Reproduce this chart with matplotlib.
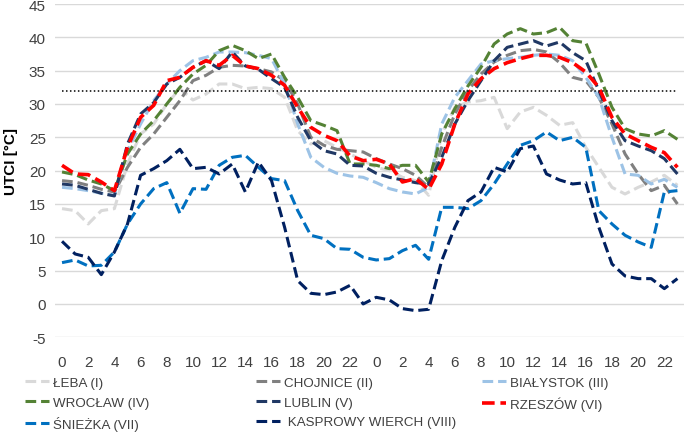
import matplotlib
matplotlib.use("Agg")
import matplotlib.pyplot as plt

plt.rcParams['font.family'] = ['Liberation Sans Narrow', 'Liberation Sans', 'DejaVu Sans']

# hours over two days (48 hourly values)
hours = list(range(24)) * 2

leba = [14.3, 14.0, 12.0, 14.0, 14.3, 21.0, 25.5, 27.0, 30.0, 32.3, 30.6, 31.5, 33.0, 33.0, 32.3, 32.5, 32.3, 31.0, 26.0, 24.0, 24.5, 23.5, 22.5, 21.5,
        20.5, 20.0, 19.0, 18.5, 16.3, 25.5, 29.5, 30.3, 30.5, 31.0, 26.3, 28.8, 29.5, 28.3, 26.8, 27.2, 23.5, 20.5, 17.5, 16.5, 17.5, 18.3, 19.3, 17.8]
chojnice = [18.5, 18.3, 17.8, 17.2, 16.8, 20.5, 23.5, 25.5, 28.0, 30.5, 33.5, 34.3, 35.5, 35.8, 35.7, 35.3, 34.8, 33.5, 30.0, 25.0, 23.8, 23.2, 23.0, 22.8,
            21.8, 21.0, 20.3, 19.3, 17.5, 23.5, 28.5, 32.0, 34.5, 36.3, 37.3, 38.0, 38.2, 37.8, 36.2, 34.0, 33.5, 31.0, 27.0, 22.5, 19.5, 17.0, 17.8, 15.0]
bialystok = [17.5, 17.3, 17.0, 16.6, 16.3, 23.0, 27.0, 30.5, 33.0, 35.0, 36.5, 37.0, 37.8, 37.8, 37.7, 37.3, 36.8, 33.0, 27.0, 22.0, 20.5, 19.6, 19.2, 19.0,
             18.2, 17.3, 16.8, 16.5, 17.5, 27.0, 31.0, 33.5, 36.0, 36.5, 36.8, 37.0, 37.3, 37.5, 37.3, 36.5, 34.0, 31.0, 25.0, 19.5, 19.3, 18.0, 18.7, 17.5]
wroclaw = [19.8, 19.4, 18.6, 18.0, 17.0, 22.5, 25.5, 27.5, 30.0, 32.5, 34.5, 35.8, 38.0, 38.8, 38.0, 36.8, 37.5, 34.0, 31.0, 27.5, 26.8, 26.0, 21.0, 21.0,
           20.8, 20.3, 20.8, 20.8, 18.3, 25.5, 29.3, 32.7, 35.5, 39.0, 40.5, 41.3, 40.5, 40.7, 41.5, 39.5, 39.2, 34.5, 29.5, 26.3, 25.5, 25.2, 26.0, 24.7]
lublin = [18.0, 17.8, 17.2, 16.6, 16.2, 24.0, 28.5, 30.2, 33.0, 34.0, 35.5, 36.5, 35.3, 37.8, 35.7, 35.2, 33.8, 32.5, 28.0, 24.5, 23.0, 22.5, 20.8, 20.7,
          19.6, 19.0, 18.6, 18.2, 18.0, 22.0, 27.0, 30.5, 33.5, 36.5, 38.5, 39.0, 39.5, 38.7, 39.3, 37.7, 36.5, 32.0, 27.5, 24.5, 23.7, 23.0, 21.8, 19.5]
rzeszow = [20.8, 19.5, 19.4, 18.3, 17.0, 23.5, 28.0, 29.8, 33.5, 34.0, 35.5, 36.5, 35.8, 37.3, 35.7, 35.3, 34.3, 32.8, 29.5, 26.5, 25.3, 24.5, 22.2, 21.5,
           21.7, 21.0, 18.3, 18.8, 17.2, 21.0, 27.0, 31.5, 33.8, 35.3, 36.2, 36.8, 37.3, 37.3, 37.0, 36.2, 34.8, 32.5, 28.0, 25.5, 24.5, 23.5, 22.7, 20.5]
sniezka = [6.2, 6.6, 5.7, 5.8, 7.8, 12.0, 15.0, 17.3, 18.2, 13.6, 17.3, 17.2, 20.8, 22.0, 22.3, 20.5, 18.8, 18.5, 14.0, 10.3, 9.8, 8.3, 8.2, 7.0,
           6.6, 6.8, 8.0, 8.8, 6.7, 14.5, 14.5, 14.3, 15.5, 18.0, 21.0, 23.8, 24.5, 25.8, 24.5, 25.0, 23.5, 14.0, 12.0, 10.3, 9.3, 8.5, 16.8, 17.0]
kasprowy = [9.4, 7.5, 7.0, 4.4, 7.8, 12.0, 19.3, 20.3, 21.5, 23.2, 20.3, 20.5, 19.5, 21.0, 16.8, 21.3, 18.5, 11.5, 3.5, 1.6, 1.4, 1.8, 2.8, 0.0,
            1.0, 0.6, -0.7, -1.0, -0.8, 6.5, 11.5, 15.5, 16.8, 20.5, 19.8, 23.3, 23.7, 19.5, 18.6, 18.0, 18.2, 11.5, 6.0, 4.2, 3.8, 3.8, 2.3, 3.8]
threshold = 32

names = ["ŁEBA (I)", "CHOJNICE (II)", "BIAŁYSTOK (III)", "WROCŁAW (IV)", "LUBLIN (V)",
         "RZESZÓW (VI)", "ŚNIEŻKA (VII)", " KASPROWY WIERCH (VIII)"]
series = [leba, chojnice, bialystok, wroclaw, lublin, rzeszow, sniezka, kasprowy]
colors = ["#D9D9D9", "#808080", "#9DC3E6", "#548235", "#203864", "#FF0000", "#0070C0", "#002060"]
widths = [2.2, 2.2, 2.2, 2.2, 2.2, 2.6, 2.2, 2.2]

fig = plt.figure(figsize=(6.85, 4.39), dpi=100)
ax = fig.add_axes([0.081, 0.2294, 0.9175, 0.7592])

x = list(range(len(hours)))
handles = []
for s, name, c, w in zip(series, names, colors, widths):
    ln, = ax.plot(x, s, color=c, lw=w, linestyle=(0, (3.5, 1.6)), dash_capstyle='butt',
                  label=name)
    handles.append(ln)

ax.plot([0, len(hours) - 1], [threshold, threshold], color='black', lw=1.1,
        linestyle=(0, (1, 1.6)))

ax.set_xlim(-0.5, len(hours) - 0.5)
ax.set_ylim(-5, 45)
ax.set_yticks(range(-5, 50, 5))
ax.set_yticklabels([str(v) for v in range(-5, 50, 5)])
ax.set_xticks(x[::2])
ax.set_xticklabels([str(h) for h in hours[::2]])
ax.tick_params(length=0, labelsize=11, colors='#404040')
ax.tick_params(axis='x', pad=13)
ax.tick_params(axis='y', pad=7)
for sp in ax.spines.values():
    sp.set_visible(False)
ax.grid(axis='y', color='#D9D9D9', lw=1)
ax.set_axisbelow(True)

ax.set_ylabel("UTCI [°C]", fontsize=11, fontweight='bold', color='black')
ax.yaxis.set_label_coords(-0.059, 0.53)

# legend laid out in three columns like the original
cols = [[0, 3, 6], [1, 4, 7], [2, 5]]
xpos = [0.036, 0.373, 0.703]
for col, xp in zip(cols, xpos):
    fig.legend([handles[i] for i in col], [names[i] for i in col], loc='upper left',
               bbox_to_anchor=(xp, 0.140), frameon=False, fontsize=9.6,
               handlelength=1.8, handletextpad=0.3, labelspacing=0.55,
               borderpad=0, borderaxespad=0, labelcolor='#404040')

fig.savefig("out.png", dpi=100)
